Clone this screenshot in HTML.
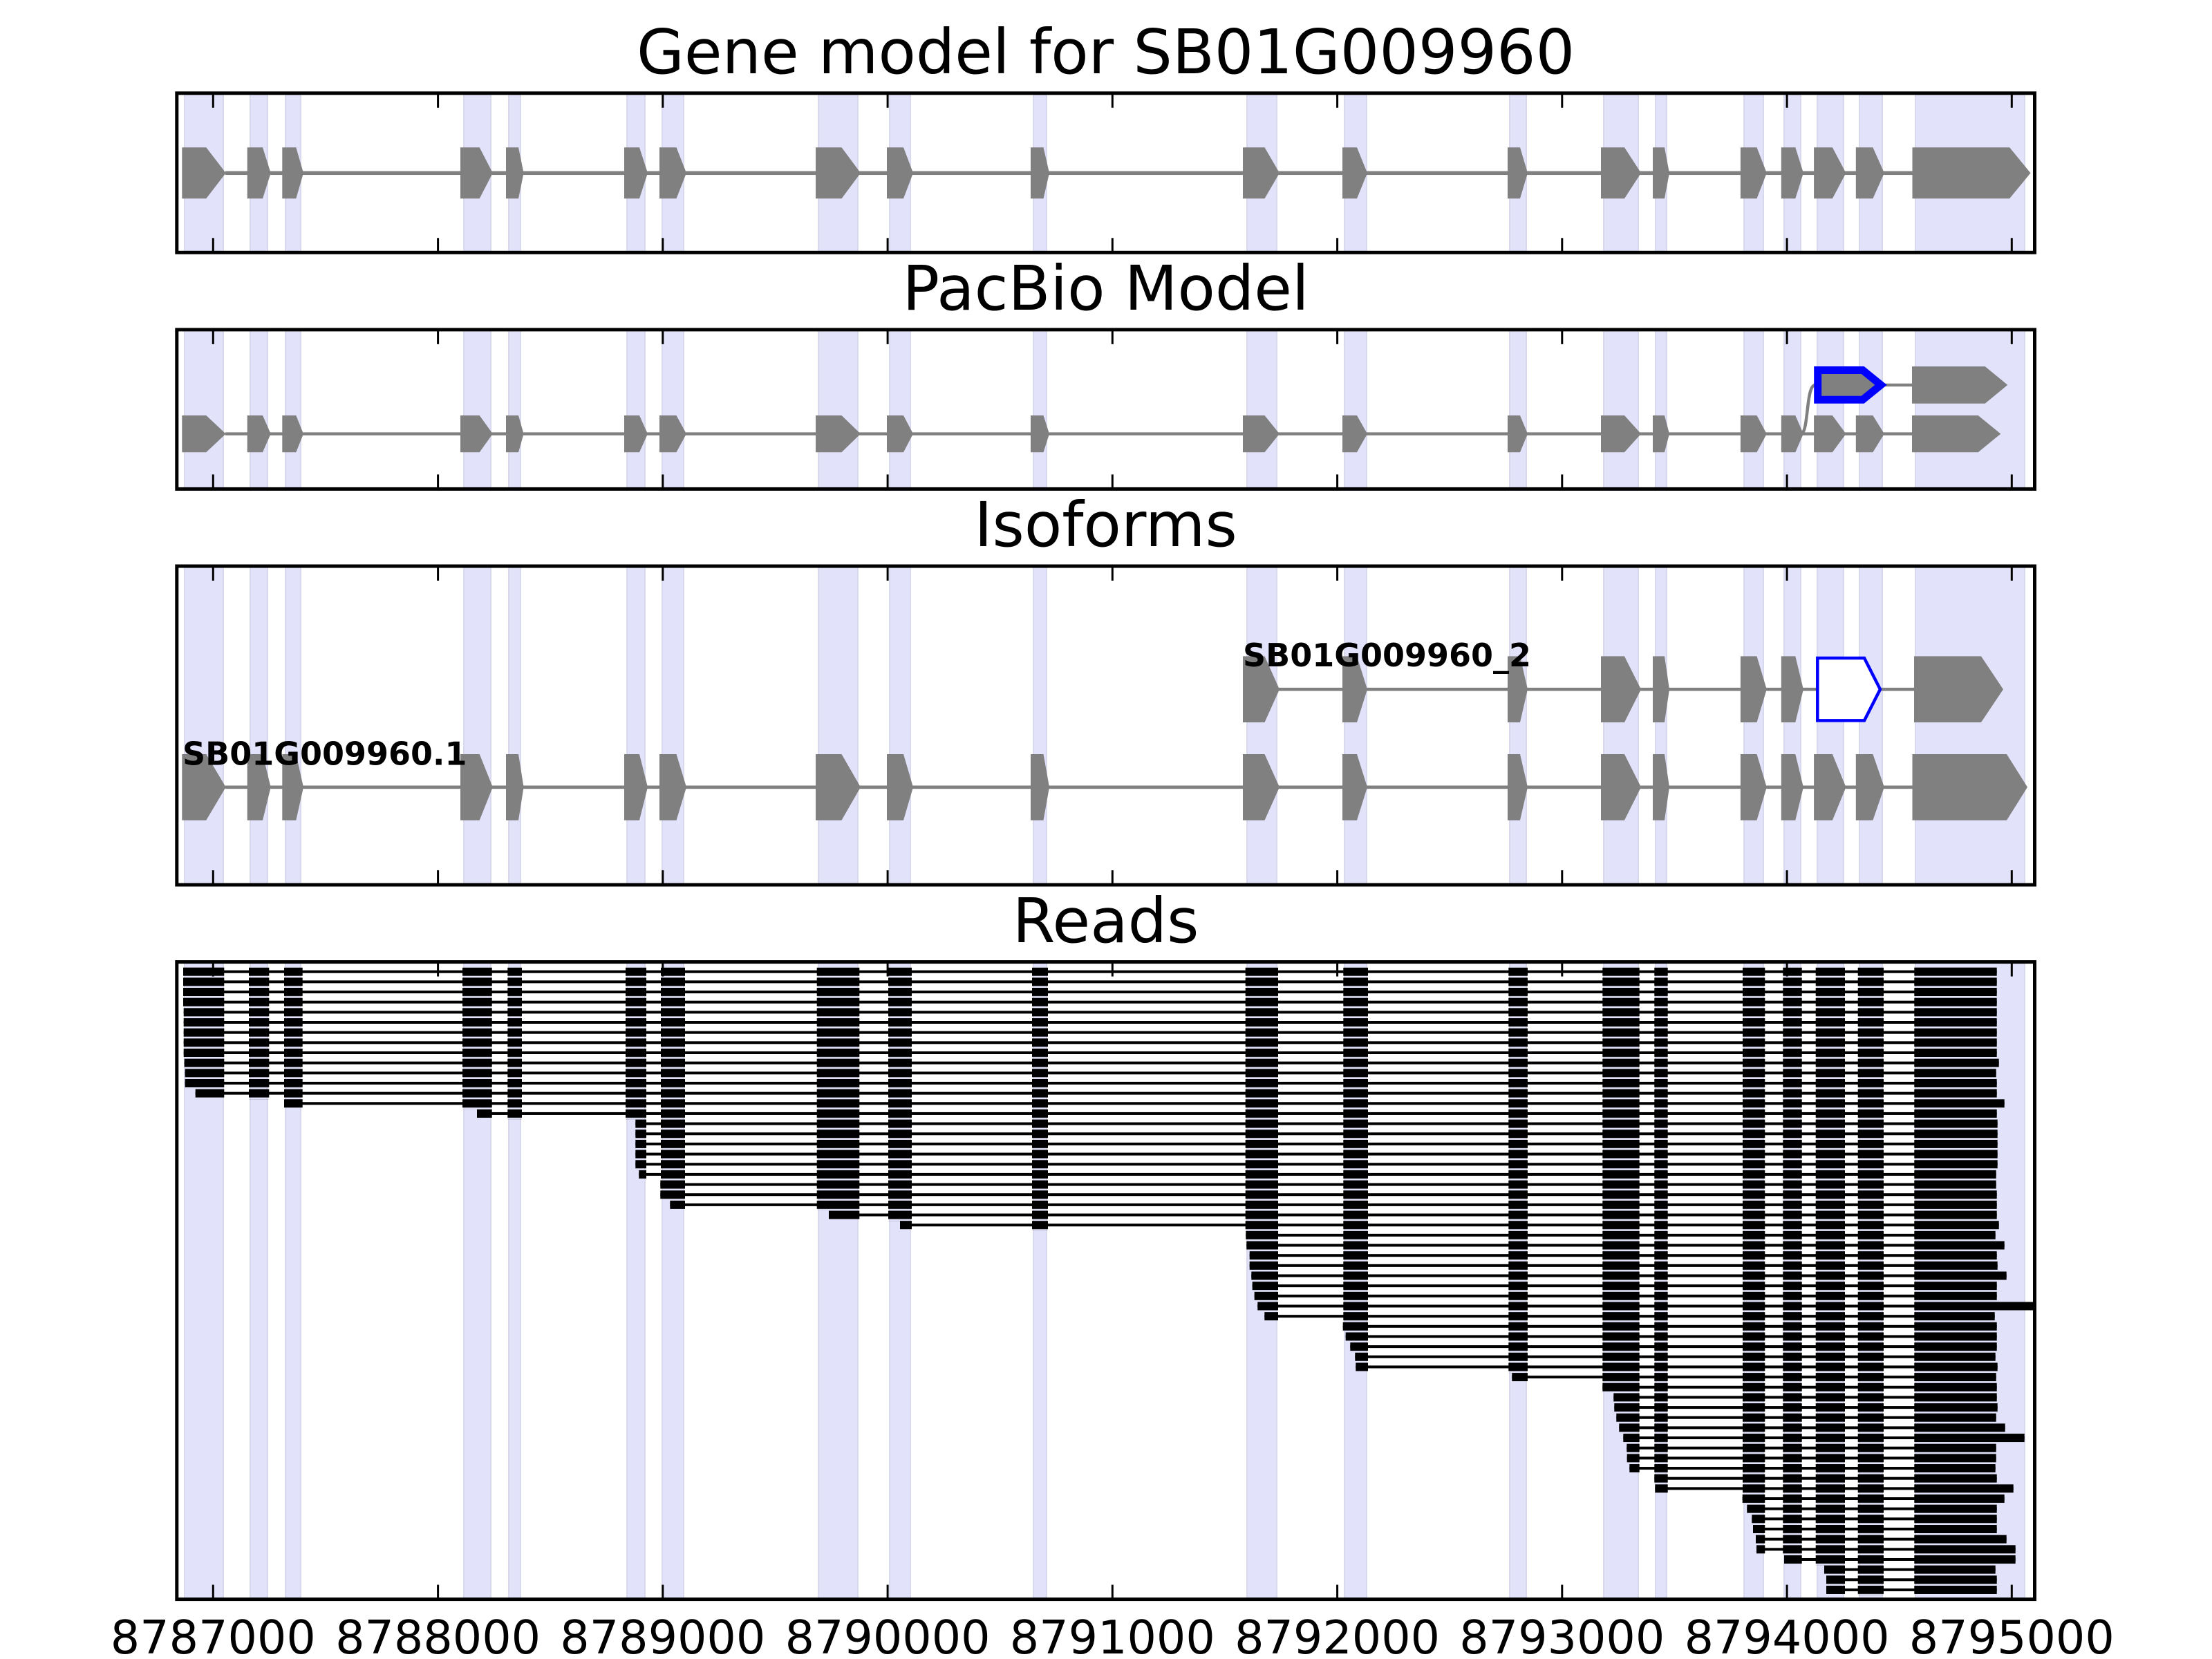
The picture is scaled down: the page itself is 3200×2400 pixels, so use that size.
<!DOCTYPE html>
<html><head><meta charset="utf-8">
<style>
html,body{margin:0;padding:0;background:#fff}
svg{display:block}
text{font-family:"DejaVu Sans","Liberation Sans",sans-serif;fill:#000}
</style></head><body>
<svg width="3200" height="2400" viewBox="0 0 3200 2400" xmlns="http://www.w3.org/2000/svg" xmlns:xlink="http://www.w3.org/1999/xlink">
<defs>
<g id="bands">
<g fill="#d9d9ed">
<rect x="266" y="0" width="58" height="1"/><rect x="361" y="0" width="27" height="1"/><rect x="412" y="0" width="24" height="1"/><rect x="670" y="0" width="41" height="1"/><rect x="735" y="0" width="19" height="1"/><rect x="906" y="0" width="28" height="1"/><rect x="957" y="0" width="33" height="1"/><rect x="1183" y="0" width="59" height="1"/><rect x="1286" y="0" width="32" height="1"/><rect x="1494" y="0" width="21" height="1"/><rect x="1803" y="0" width="45" height="1"/><rect x="1944" y="0" width="34" height="1"/><rect x="2183" y="0" width="26" height="1"/><rect x="2319" y="0" width="52" height="1"/><rect x="2394" y="0" width="18" height="1"/><rect x="2522" y="0" width="30" height="1"/><rect x="2580" y="0" width="26" height="1"/><rect x="2628" y="0" width="40" height="1"/><rect x="2689" y="0" width="35" height="1"/><rect x="2770" y="0" width="160" height="1"/>
</g>
<g fill="#e2e2fa">
<rect x="268" y="0" width="54" height="1"/><rect x="363" y="0" width="23" height="1"/><rect x="414" y="0" width="20" height="1"/><rect x="672" y="0" width="37" height="1"/><rect x="737" y="0" width="15" height="1"/><rect x="908" y="0" width="24" height="1"/><rect x="959" y="0" width="29" height="1"/><rect x="1185" y="0" width="55" height="1"/><rect x="1288" y="0" width="28" height="1"/><rect x="1496" y="0" width="17" height="1"/><rect x="1805" y="0" width="41" height="1"/><rect x="1946" y="0" width="30" height="1"/><rect x="2185" y="0" width="22" height="1"/><rect x="2321" y="0" width="48" height="1"/><rect x="2396" y="0" width="14" height="1"/><rect x="2524" y="0" width="26" height="1"/><rect x="2582" y="0" width="22" height="1"/><rect x="2630" y="0" width="36" height="1"/><rect x="2691" y="0" width="31" height="1"/><rect x="2772" y="0" width="156" height="1"/>
</g>
</g>
<g id="gA">
<polygon points="263.3,-1 298.3,-1 326.7,0 298.3,1 263.3,1"/>
<polygon points="357.7,-1 380,-1 391.7,0 380,1 357.7,1"/>
<polygon points="408.3,-1 428.3,-1 439,0 428.3,1 408.3,1"/>
<polygon points="666,-1 693.7,-1 712.8,0 693.7,1 666,1"/>
<polygon points="732,-1 750,-1 757.6,0 750,1 732,1"/>
<polygon points="903,-1 925,-1 937,0 925,1 903,1"/>
<polygon points="954,-1 978.5,-1 993,0 978.5,1 954,1"/>
<polygon points="1180,-1 1217.5,-1 1245,0 1217.5,1 1180,1"/>
<polygon points="1283,-1 1307,-1 1321,0 1307,1 1283,1"/>
<polygon points="1491,-1 1509.5,-1 1518,0 1509.5,1 1491,1"/>
</g>
<g id="gB">
<polygon points="1798,-1 1829.5,-1 1851,0 1829.5,1 1798,1"/>
<polygon points="1942,-1 1963,-1 1978,0 1963,1 1942,1"/>
<polygon points="2181,-1 2199,-1 2210,0 2199,1 2181,1"/>
<polygon points="2316,-1 2350,-1 2374,0 2350,1 2316,1"/>
<polygon points="2391,-1 2408,-1 2415,0 2408,1 2391,1"/>
<polygon points="2517.9,-1 2541.5,-1 2555.8,0 2541.5,1 2517.9,1"/>
<polygon points="2576.8,-1 2597.3,-1 2608.9,0 2597.3,1 2576.8,1"/>
</g>
<g id="gC">
<polygon points="2624.1,-1 2650.9,-1 2670.5,0 2650.9,1 2624.1,1"/>
<polygon points="2684.8,-1 2709.4,-1 2725.9,0 2709.4,1 2684.8,1"/>
</g>
<g id="ticks" stroke="#000" stroke-width="3">
<line x1="308.3" y1="0" x2="308.3" y2="21"/><line x1="633.6" y1="0" x2="633.6" y2="21"/><line x1="958.8" y1="0" x2="958.8" y2="21"/><line x1="1284.1" y1="0" x2="1284.1" y2="21"/><line x1="1609.3" y1="0" x2="1609.3" y2="21"/><line x1="1934.6" y1="0" x2="1934.6" y2="21"/><line x1="2259.8" y1="0" x2="2259.8" y2="21"/><line x1="2585.1" y1="0" x2="2585.1" y2="21"/><line x1="2910.3" y1="0" x2="2910.3" y2="21"/>
</g>
<pattern id="rp" patternUnits="userSpaceOnUse" x="0" y="1399.7" width="3200" height="14.66"><rect x="0" y="0" width="3200" height="12" fill="#000"/></pattern>
<clipPath id="c4"><rect x="258" y="1394" width="2683.5" height="917"/></clipPath>
<clipPath id="c1"><rect x="258" y="137" width="2683.5" height="226"/></clipPath>
<clipPath id="c2"><rect x="258" y="479" width="2683.5" height="226"/></clipPath>
<clipPath id="c3"><rect x="258" y="821" width="2683.5" height="457"/></clipPath>
</defs>

<rect width="3200" height="2400" fill="#fff"/>

<use href="#bands" xlink:href="#bands" transform="translate(0,134.8) scale(1,230.5)"/>
<use href="#bands" xlink:href="#bands" transform="translate(0,476.9) scale(1,230.5)"/>
<use href="#bands" xlink:href="#bands" transform="translate(0,819) scale(1,461)"/>
<use href="#bands" xlink:href="#bands" transform="translate(0,1391.6) scale(1,922)"/>

<g clip-path="url(#c1)">
<rect x="326" y="247.55" width="2441" height="5.5" fill="#808080"/>
<g fill="#808080" transform="translate(0,250.3) scale(1,37)">
<use href="#gA" xlink:href="#gA"/><use href="#gB" xlink:href="#gB"/><use href="#gC" xlink:href="#gC"/>
<polygon points="2766.5,-1 2907.1,-1 2937.5,0 2907.1,1 2766.5,1"/>
</g>
</g>

<g clip-path="url(#c2)">
<rect x="326" y="625.4" width="2441" height="4.4" fill="#808080"/>
<rect x="2720" y="554.8" width="47" height="4.4" fill="#808080"/>
<path d="M2605,627.6 C2617,627.6 2612,557 2626,557" stroke="#808080" stroke-width="4.5" fill="none"/>
<g fill="#808080" transform="translate(0,627.6) scale(1,26.6)">
<use href="#gA" xlink:href="#gA"/><use href="#gB" xlink:href="#gB"/><use href="#gC" xlink:href="#gC"/>
<polygon points="2766,-1 2861.7,-1 2894.3,0 2861.7,1 2766,1"/>
</g>
<g fill="#808080" transform="translate(0,556.9) scale(1,26.8)">
<polygon points="2766,-1 2871.7,-1 2904.3,0 2871.7,1 2766,1"/>
</g>
<polygon points="2629.7,535.5 2694.7,535.5 2721,556.9 2694.7,578.2 2629.7,578.2" fill="#808080" stroke="#0000ff" stroke-width="11" stroke-linejoin="miter"/>
</g>

<g clip-path="url(#c3)">
<rect x="326" y="1136.45" width="2441" height="4.7" fill="#808080"/>
<rect x="1850" y="994.85" width="920" height="4.7" fill="#808080"/>
<g fill="#808080" transform="translate(0,1138.8) scale(1,47.8)">
<use href="#gA" xlink:href="#gA"/><use href="#gB" xlink:href="#gB"/><use href="#gC" xlink:href="#gC"/>
<polygon points="2766.5,-1 2903,-1 2933,0 2903,1 2766.5,1"/>
</g>
<g fill="#808080" transform="translate(0,997.2) scale(1,47.8)">
<use href="#gB" xlink:href="#gB"/>
<polygon points="2769,-1 2866,-1 2898,0 2866,1 2769,1"/>
</g>
<polygon points="2629.3,952 2697,952 2720,997.2 2697,1042.4 2629.3,1042.4" fill="#fff" stroke="#0000ff" stroke-width="4.5" stroke-linejoin="miter"/>
</g>
<text x="264" y="1106.7" font-size="46" font-weight="bold">SB01G009960.1</text>
<text x="1798" y="964" font-size="46" font-weight="bold">SB01G009960_2</text>

<g clip-path="url(#c4)" fill="#000">
<rect x="360" y="1399.7" width="29.3" height="190.58" fill="url(#rp)"/>
<rect x="411" y="1399.7" width="26.7" height="190.58" fill="url(#rp)"/>
<rect x="669" y="1399.7" width="42.7" height="205.24" fill="url(#rp)"/>
<rect x="734.3" y="1399.7" width="20.7" height="219.9" fill="url(#rp)"/>
<rect x="905" y="1399.7" width="30" height="219.9" fill="url(#rp)"/>
<rect x="956" y="1399.7" width="35" height="307.86" fill="url(#rp)"/>
<rect x="1181.7" y="1399.7" width="61.6" height="351.84" fill="url(#rp)"/>
<rect x="1285" y="1399.7" width="34" height="366.5" fill="url(#rp)"/>
<rect x="1493" y="1399.7" width="23" height="381.16" fill="url(#rp)"/>
<rect x="1801.7" y="1399.7" width="47.3" height="381.16" fill="url(#rp)"/>
<rect x="1943.3" y="1399.7" width="35.7" height="513.1" fill="url(#rp)"/>
<rect x="2182.3" y="1399.7" width="27.7" height="586.4" fill="url(#rp)"/>
<rect x="2318.3" y="1399.7" width="53.4" height="601.06" fill="url(#rp)"/>
<rect x="2393.3" y="1399.7" width="19.4" height="733" fill="url(#rp)"/>
<rect x="2521" y="1399.7" width="32.3" height="762.32" fill="url(#rp)"/>
<rect x="2579.3" y="1399.7" width="27.4" height="850.28" fill="url(#rp)"/>
<rect x="2626.7" y="1399.7" width="42.3" height="864.94" fill="url(#rp)"/>
<rect x="2687.7" y="1399.7" width="37.3" height="908.92" fill="url(#rp)"/>

<g transform="translate(0,1405.7)"><rect x="265" y="-2" width="2623.7" height="4"/><rect x="265" y="-6" width="59.3" height="12"/><rect x="2769.3" y="-6" width="119.4" height="12"/></g>
<g transform="translate(0,1420.36)"><rect x="265" y="-2" width="2623.7" height="4"/><rect x="265" y="-6" width="59.3" height="12"/><rect x="2769.3" y="-6" width="119.4" height="12"/></g>
<g transform="translate(0,1435.02)"><rect x="265" y="-2" width="2623.7" height="4"/><rect x="265" y="-6" width="59.3" height="12"/><rect x="2769.3" y="-6" width="119.4" height="12"/></g>
<g transform="translate(0,1449.68)"><rect x="265" y="-2" width="2623.7" height="4"/><rect x="265" y="-6" width="59.3" height="12"/><rect x="2769.3" y="-6" width="119.4" height="12"/></g>
<g transform="translate(0,1464.34)"><rect x="265.7" y="-2" width="2623" height="4"/><rect x="265.7" y="-6" width="58.6" height="12"/><rect x="2769.3" y="-6" width="119.4" height="12"/></g>
<g transform="translate(0,1479)"><rect x="265.7" y="-2" width="2623" height="4"/><rect x="265.7" y="-6" width="58.6" height="12"/><rect x="2769.3" y="-6" width="119.4" height="12"/></g>
<g transform="translate(0,1493.66)"><rect x="265.7" y="-2" width="2623" height="4"/><rect x="265.7" y="-6" width="58.6" height="12"/><rect x="2769.3" y="-6" width="119.4" height="12"/></g>
<g transform="translate(0,1508.32)"><rect x="265.7" y="-2" width="2623" height="4"/><rect x="265.7" y="-6" width="58.6" height="12"/><rect x="2769.3" y="-6" width="119.4" height="12"/></g>
<g transform="translate(0,1522.98)"><rect x="265.7" y="-2" width="2623" height="4"/><rect x="265.7" y="-6" width="58.6" height="12"/><rect x="2769.3" y="-6" width="119.4" height="12"/></g>
<g transform="translate(0,1537.64)"><rect x="266.7" y="-2" width="2625" height="4"/><rect x="266.7" y="-6" width="57.6" height="12"/><rect x="2769.3" y="-6" width="122.4" height="12"/></g>
<g transform="translate(0,1552.3)"><rect x="267.7" y="-2" width="2620" height="4"/><rect x="267.7" y="-6" width="56.6" height="12"/><rect x="2769.3" y="-6" width="118.4" height="12"/></g>
<g transform="translate(0,1566.96)"><rect x="267.7" y="-2" width="2621" height="4"/><rect x="267.7" y="-6" width="56.6" height="12"/><rect x="2769.3" y="-6" width="119.4" height="12"/></g>
<g transform="translate(0,1581.62)"><rect x="282.7" y="-2" width="2606" height="4"/><rect x="282.7" y="-6" width="41.6" height="12"/><rect x="2769.3" y="-6" width="119.4" height="12"/></g>
<g transform="translate(0,1596.28)"><rect x="411" y="-2" width="2488.7" height="4"/><rect x="411" y="-6" width="26.7" height="12"/><rect x="2769.3" y="-6" width="130.4" height="12"/></g>
<g transform="translate(0,1610.94)"><rect x="690" y="-2" width="2198.7" height="4"/><rect x="690" y="-6" width="21.7" height="12"/><rect x="2769.3" y="-6" width="119.4" height="12"/></g>
<g transform="translate(0,1625.6)"><rect x="919.3" y="-2" width="1970.4" height="4"/><rect x="919.3" y="-6" width="15.7" height="12"/><rect x="2769.3" y="-6" width="120.4" height="12"/></g>
<g transform="translate(0,1640.26)"><rect x="919.3" y="-2" width="1970.4" height="4"/><rect x="919.3" y="-6" width="15.7" height="12"/><rect x="2769.3" y="-6" width="120.4" height="12"/></g>
<g transform="translate(0,1654.92)"><rect x="919.3" y="-2" width="1970.4" height="4"/><rect x="919.3" y="-6" width="15.7" height="12"/><rect x="2769.3" y="-6" width="120.4" height="12"/></g>
<g transform="translate(0,1669.58)"><rect x="919.3" y="-2" width="1970.4" height="4"/><rect x="919.3" y="-6" width="15.7" height="12"/><rect x="2769.3" y="-6" width="120.4" height="12"/></g>
<g transform="translate(0,1684.24)"><rect x="919.3" y="-2" width="1970.4" height="4"/><rect x="919.3" y="-6" width="15.7" height="12"/><rect x="2769.3" y="-6" width="120.4" height="12"/></g>
<g transform="translate(0,1698.9)"><rect x="924.3" y="-2" width="1963.4" height="4"/><rect x="924.3" y="-6" width="10.7" height="12"/><rect x="2769.3" y="-6" width="118.4" height="12"/></g>
<g transform="translate(0,1713.56)"><rect x="955.3" y="-2" width="1932.4" height="4"/><rect x="955.3" y="-6" width="35.7" height="12"/><rect x="2769.3" y="-6" width="118.4" height="12"/></g>
<g transform="translate(0,1728.22)"><rect x="955.3" y="-2" width="1933.4" height="4"/><rect x="955.3" y="-6" width="35.7" height="12"/><rect x="2769.3" y="-6" width="119.4" height="12"/></g>
<g transform="translate(0,1742.88)"><rect x="969.3" y="-2" width="1919.4" height="4"/><rect x="969.3" y="-6" width="21.7" height="12"/><rect x="2769.3" y="-6" width="119.4" height="12"/></g>
<g transform="translate(0,1757.54)"><rect x="1199" y="-2" width="1689.7" height="4"/><rect x="1199" y="-6" width="44.3" height="12"/><rect x="2769.3" y="-6" width="119.4" height="12"/></g>
<g transform="translate(0,1772.2)"><rect x="1302" y="-2" width="1589.7" height="4"/><rect x="1302" y="-6" width="17" height="12"/><rect x="2769.3" y="-6" width="122.4" height="12"/></g>
<g transform="translate(0,1786.86)"><rect x="1802.3" y="-2" width="1084.4" height="4"/><rect x="1802.3" y="-6" width="46.7" height="12"/><rect x="2769.3" y="-6" width="117.4" height="12"/></g>
<g transform="translate(0,1801.52)"><rect x="1803.3" y="-2" width="1096.4" height="4"/><rect x="1803.3" y="-6" width="45.7" height="12"/><rect x="2769.3" y="-6" width="130.4" height="12"/></g>
<g transform="translate(0,1816.18)"><rect x="1807.7" y="-2" width="1081" height="4"/><rect x="1807.7" y="-6" width="41.3" height="12"/><rect x="2769.3" y="-6" width="119.4" height="12"/></g>
<g transform="translate(0,1830.84)"><rect x="1807.7" y="-2" width="1082" height="4"/><rect x="1807.7" y="-6" width="41.3" height="12"/><rect x="2769.3" y="-6" width="120.4" height="12"/></g>
<g transform="translate(0,1845.5)"><rect x="1810.3" y="-2" width="1092.4" height="4"/><rect x="1810.3" y="-6" width="38.7" height="12"/><rect x="2769.3" y="-6" width="133.4" height="12"/></g>
<g transform="translate(0,1860.16)"><rect x="1811.7" y="-2" width="1077" height="4"/><rect x="1811.7" y="-6" width="37.3" height="12"/><rect x="2769.3" y="-6" width="119.4" height="12"/></g>
<g transform="translate(0,1874.82)"><rect x="1814.7" y="-2" width="1074" height="4"/><rect x="1814.7" y="-6" width="34.3" height="12"/><rect x="2769.3" y="-6" width="119.4" height="12"/></g>
<g transform="translate(0,1889.48)"><rect x="1819.3" y="-2" width="1140.7" height="4"/><rect x="1819.3" y="-6" width="29.7" height="12"/><rect x="2769.3" y="-6" width="190.7" height="12"/></g>
<g transform="translate(0,1904.14)"><rect x="1829.3" y="-2" width="1056.4" height="4"/><rect x="1829.3" y="-6" width="19.7" height="12"/><rect x="2769.3" y="-6" width="116.4" height="12"/></g>
<g transform="translate(0,1918.8)"><rect x="1942.7" y="-2" width="946" height="4"/><rect x="1942.7" y="-6" width="36.3" height="12"/><rect x="2769.3" y="-6" width="119.4" height="12"/></g>
<g transform="translate(0,1933.46)"><rect x="1946.7" y="-2" width="942" height="4"/><rect x="1946.7" y="-6" width="32.3" height="12"/><rect x="2769.3" y="-6" width="119.4" height="12"/></g>
<g transform="translate(0,1948.12)"><rect x="1953.3" y="-2" width="935.4" height="4"/><rect x="1953.3" y="-6" width="25.7" height="12"/><rect x="2769.3" y="-6" width="119.4" height="12"/></g>
<g transform="translate(0,1962.78)"><rect x="1960.3" y="-2" width="926.4" height="4"/><rect x="1960.3" y="-6" width="18.7" height="12"/><rect x="2769.3" y="-6" width="117.4" height="12"/></g>
<g transform="translate(0,1977.44)"><rect x="1961.3" y="-2" width="928.4" height="4"/><rect x="1961.3" y="-6" width="17.7" height="12"/><rect x="2769.3" y="-6" width="120.4" height="12"/></g>
<g transform="translate(0,1992.1)"><rect x="2187.3" y="-2" width="700.4" height="4"/><rect x="2187.3" y="-6" width="22.7" height="12"/><rect x="2769.3" y="-6" width="118.4" height="12"/></g>
<g transform="translate(0,2006.76)"><rect x="2318.3" y="-2" width="570.4" height="4"/><rect x="2318.3" y="-6" width="53.4" height="12"/><rect x="2769.3" y="-6" width="119.4" height="12"/></g>
<g transform="translate(0,2021.42)"><rect x="2334.3" y="-2" width="554.4" height="4"/><rect x="2334.3" y="-6" width="37.4" height="12"/><rect x="2769.3" y="-6" width="119.4" height="12"/></g>
<g transform="translate(0,2036.08)"><rect x="2335.3" y="-2" width="554.4" height="4"/><rect x="2335.3" y="-6" width="36.4" height="12"/><rect x="2769.3" y="-6" width="120.4" height="12"/></g>
<g transform="translate(0,2050.74)"><rect x="2338.3" y="-2" width="549.4" height="4"/><rect x="2338.3" y="-6" width="33.4" height="12"/><rect x="2769.3" y="-6" width="118.4" height="12"/></g>
<g transform="translate(0,2065.4)"><rect x="2342.3" y="-2" width="558.4" height="4"/><rect x="2342.3" y="-6" width="29.4" height="12"/><rect x="2769.3" y="-6" width="131.4" height="12"/></g>
<g transform="translate(0,2080.06)"><rect x="2348.3" y="-2" width="580.4" height="4"/><rect x="2348.3" y="-6" width="23.4" height="12"/><rect x="2769.3" y="-6" width="159.4" height="12"/></g>
<g transform="translate(0,2094.72)"><rect x="2353.3" y="-2" width="534.4" height="4"/><rect x="2353.3" y="-6" width="18.4" height="12"/><rect x="2769.3" y="-6" width="118.4" height="12"/></g>
<g transform="translate(0,2109.38)"><rect x="2353.7" y="-2" width="534" height="4"/><rect x="2353.7" y="-6" width="18" height="12"/><rect x="2769.3" y="-6" width="118.4" height="12"/></g>
<g transform="translate(0,2124.04)"><rect x="2357.3" y="-2" width="529.4" height="4"/><rect x="2357.3" y="-6" width="14.4" height="12"/><rect x="2769.3" y="-6" width="117.4" height="12"/></g>
<g transform="translate(0,2138.7)"><rect x="2393.3" y="-2" width="495.4" height="4"/><rect x="2393.3" y="-6" width="19.4" height="12"/><rect x="2769.3" y="-6" width="119.4" height="12"/></g>
<g transform="translate(0,2153.36)"><rect x="2394.3" y="-2" width="518.4" height="4"/><rect x="2394.3" y="-6" width="18.4" height="12"/><rect x="2769.3" y="-6" width="143.4" height="12"/></g>
<g transform="translate(0,2168.02)"><rect x="2520.7" y="-2" width="379" height="4"/><rect x="2520.7" y="-6" width="32.6" height="12"/><rect x="2769.3" y="-6" width="130.4" height="12"/></g>
<g transform="translate(0,2182.68)"><rect x="2527.3" y="-2" width="361.4" height="4"/><rect x="2527.3" y="-6" width="26" height="12"/><rect x="2769.3" y="-6" width="119.4" height="12"/></g>
<g transform="translate(0,2197.34)"><rect x="2534.3" y="-2" width="354.4" height="4"/><rect x="2534.3" y="-6" width="19" height="12"/><rect x="2769.3" y="-6" width="119.4" height="12"/></g>
<g transform="translate(0,2212)"><rect x="2536" y="-2" width="352.7" height="4"/><rect x="2536" y="-6" width="17.3" height="12"/><rect x="2769.3" y="-6" width="119.4" height="12"/></g>
<g transform="translate(0,2226.66)"><rect x="2540" y="-2" width="362.7" height="4"/><rect x="2540" y="-6" width="13.3" height="12"/><rect x="2769.3" y="-6" width="133.4" height="12"/></g>
<g transform="translate(0,2241.32)"><rect x="2541" y="-2" width="374.7" height="4"/><rect x="2541" y="-6" width="12.3" height="12"/><rect x="2769.3" y="-6" width="146.4" height="12"/></g>
<g transform="translate(0,2255.98)"><rect x="2581" y="-2" width="334.7" height="4"/><rect x="2581" y="-6" width="25.7" height="12"/><rect x="2769.3" y="-6" width="146.4" height="12"/></g>
<g transform="translate(0,2270.64)"><rect x="2639" y="-2" width="247.7" height="4"/><rect x="2639" y="-6" width="30" height="12"/><rect x="2769.3" y="-6" width="117.4" height="12"/></g>
<g transform="translate(0,2285.3)"><rect x="2642" y="-2" width="246.7" height="4"/><rect x="2642" y="-6" width="27" height="12"/><rect x="2769.3" y="-6" width="119.4" height="12"/></g>
<g transform="translate(0,2299.96)"><rect x="2642" y="-2" width="246.7" height="4"/><rect x="2642" y="-6" width="27" height="12"/><rect x="2769.3" y="-6" width="119.4" height="12"/></g>
</g>

<use href="#ticks" xlink:href="#ticks" transform="translate(0,134.8)"/>
<use href="#ticks" xlink:href="#ticks" transform="translate(0,365.3) scale(1,-1)"/>
<use href="#ticks" xlink:href="#ticks" transform="translate(0,476.9)"/>
<use href="#ticks" xlink:href="#ticks" transform="translate(0,707.4) scale(1,-1)"/>
<use href="#ticks" xlink:href="#ticks" transform="translate(0,819)"/>
<use href="#ticks" xlink:href="#ticks" transform="translate(0,1280) scale(1,-1)"/>
<use href="#ticks" xlink:href="#ticks" transform="translate(0,1391.6)"/>
<use href="#ticks" xlink:href="#ticks" transform="translate(0,2313.6) scale(1,-1)"/>

<g fill="none" stroke="#000" stroke-width="5">
<rect x="255.8" y="134.8" width="2687.7" height="230.5"/>
<rect x="255.8" y="476.9" width="2687.7" height="230.5"/>
<rect x="255.8" y="819" width="2687.7" height="461"/>
<rect x="255.8" y="1391.6" width="2687.7" height="922"/>
</g>

<g font-size="88.9" text-anchor="middle">
<text x="1599.6" y="106">Gene model for SB01G009960</text>
<text x="1599.6" y="448">PacBio Model</text>
<text x="1599.6" y="790">Isoforms</text>
<text x="1599.6" y="1363">Reads</text>
</g>

<g font-size="66.7" text-anchor="middle">
<text x="308.3" y="2392">8787000</text>
<text x="633.6" y="2392">8788000</text>
<text x="958.8" y="2392">8789000</text>
<text x="1284.1" y="2392">8790000</text>
<text x="1609.3" y="2392">8791000</text>
<text x="1934.6" y="2392">8792000</text>
<text x="2259.8" y="2392">8793000</text>
<text x="2585.1" y="2392">8794000</text>
<text x="2910.3" y="2392">8795000</text>
</g>
</svg>
</body></html>
